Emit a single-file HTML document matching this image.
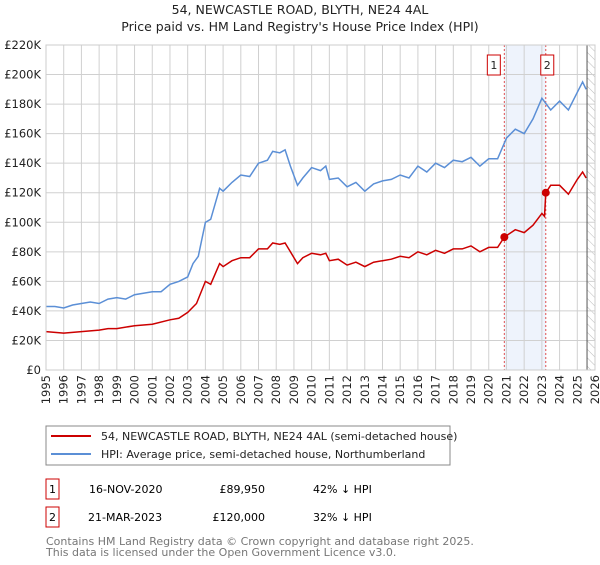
<!DOCTYPE html>
<html><head><meta charset="utf-8"><style>
body{margin:0;background:#fff;font-family:"Liberation Sans","DejaVu Sans",sans-serif;}
svg text{font-family:"DejaVu Sans","Liberation Sans",sans-serif;}
</style></head><body>
<svg id="c" width="600" height="560" viewBox="0 0 600 560" xmlns="http://www.w3.org/2000/svg">
<defs><pattern id="hatch" width="6" height="6" patternUnits="userSpaceOnUse" patternTransform="rotate(-45)"><line x1="0" y1="0" x2="0" y2="6" stroke="#bbb" stroke-width="1"/></pattern></defs>
<text x="300" y="14" text-anchor="middle" font-size="12.5" fill="#222">54, NEWCASTLE ROAD, BLYTH, NE24 4AL</text>
<text x="300" y="31" text-anchor="middle" font-size="12.5" fill="#222">Price paid vs. HM Land Registry's House Price Index (HPI)</text>
<g id="grid"></g><g id="marks"></g><g id="axes"></g>
<rect x="46" y="426" width="404" height="39" fill="#fff" stroke="#888"/>
<line x1="51" y1="436" x2="91" y2="436" stroke="#cc0000" stroke-width="2"/>
<text x="101" y="440" font-size="11" fill="#222">54, NEWCASTLE ROAD, BLYTH, NE24 4AL (semi-detached house)</text>
<line x1="51" y1="454" x2="91" y2="454" stroke="#5b8fd6" stroke-width="2"/>
<text x="101" y="458" font-size="11" fill="#222">HPI: Average price, semi-detached house, Northumberland</text>
<g>
<rect x="46" y="479" width="13" height="20" fill="#fff" stroke="#cc0000"/><text x="52.5" y="493" text-anchor="middle" font-size="11">1</text>
<text x="89" y="493" font-size="11">16-NOV-2020</text><text x="265" y="493" font-size="11" text-anchor="end">£89,950</text><text x="313" y="493" font-size="11">42% ↓ HPI</text></g>
<g>
<rect x="46" y="507" width="13" height="20" fill="#fff" stroke="#cc0000"/><text x="52.5" y="521" text-anchor="middle" font-size="11">2</text>
<text x="88" y="521" font-size="11">21-MAR-2023</text><text x="265" y="521" font-size="11" text-anchor="end">£120,000</text><text x="313" y="521" font-size="11">32% ↓ HPI</text></g>
<text x="46" y="545" font-size="11" fill="#777">Contains HM Land Registry data © Crown copyright and database right 2025.</text>
<text x="46" y="556" font-size="11" fill="#777">This data is licensed under the Open Government Licence v3.0.</text>
</svg>
<script>
const hpiT=[1995,1995.5,1996,1996.5,1997,1997.5,1998,1998.5,1999,1999.5,2000,2000.5,2001,2001.5,2002,2002.5,2003,2003.3,2003.6,2004,2004.3,2004.8,2005,2005.5,2006,2006.5,2007,2007.5,2007.8,2008.2,2008.5,2008.8,2009.2,2009.5,2010,2010.5,2010.8,2011,2011.5,2012,2012.5,2013,2013.5,2014,2014.5,2015,2015.5,2016,2016.5,2017,2017.5,2018,2018.5,2019,2019.5,2020,2020.5,2021,2021.5,2022,2022.5,2023,2023.5,2024,2024.5,2025,2025.3,2025.5];
const hpiV=[43,43,42,44,45,46,45,48,49,48,51,52,53,53,58,60,63,72,77,100,102,123,121,127,132,131,140,142,148,147,149,138,125,130,137,135,138,129,130,124,127,121,126,128,129,132,130,138,134,140,137,142,141,144,138,143,143,157,163,160,170,184,176,182,176,188,195,190];
const priceT=[1995,1996,1997,1998,1998.5,1999,2000,2001,2002,2002.5,2003,2003.5,2004,2004.3,2004.8,2005,2005.5,2006,2006.5,2007,2007.5,2007.8,2008.2,2008.5,2008.8,2009.2,2009.5,2010,2010.5,2010.8,2011,2011.5,2012,2012.5,2013,2013.5,2014,2014.5,2015,2015.5,2016,2016.5,2017,2017.5,2018,2018.5,2019,2019.5,2020,2020.5,2020.88,2021.5,2022,2022.5,2023,2023.15,2023.22,2023.5,2024,2024.5,2025,2025.3,2025.5];
const priceV=[26,25,26,27,28,28,30,31,34,35,39,45,60,58,72,70,74,76,76,82,82,86,85,86,80,72,76,79,78,79,74,75,71,73,70,73,74,75,77,76,80,78,81,79,82,82,84,80,83,83,89.95,95,93,98,106,104,120,125,125,119,129,134,130];
const saleT=[2020.88,2023.22];
const saleV=[89.95,120];
const yTicks=[0,20,40,60,80,100,120,140,160,180,200,220];
const years=[1995,1996,1997,1998,1999,2000,2001,2002,2003,2004,2005,2006,2007,2008,2009,2010,2011,2012,2013,2014,2015,2016,2017,2018,2019,2020,2021,2022,2023,2024,2025,2026];
const X0=46,X1=595,Y0=370,Y1=45;
const xs=t=>X0+(t-1995)/(2026-1995)*(X1-X0);
const ys=v=>Y0-v/220*(Y0-Y1);
const NS="http://www.w3.org/2000/svg";
function mk(tag,attrs,parent){const e=document.createElementNS(NS,tag);for(const k in attrs)e.setAttribute(k,attrs[k]);parent.appendChild(e);return e;}
const grid=document.getElementById('grid'),marks=document.getElementById('marks'),axes=document.getElementById('axes');
mk('rect',{x:X0,y:Y1,width:X1-X0,height:Y0-Y1,fill:'#fff'},grid);
const band=mk('rect',{x:xs(saleT[0]),y:Y1,width:xs(saleT[1])-xs(saleT[0]),height:Y0-Y1,fill:'#eef3fc'},grid);


const hat=mk('rect',{x:xs(2025.55),y:Y1,width:X1-xs(2025.55),height:Y0-Y1,fill:'url(#hatch)'},grid);


years.forEach(y=>{mk('line',{x1:xs(y),x2:xs(y),y1:Y1,y2:Y0,stroke:'#d0d0d0'},grid);
const t=mk('text',{x:0,y:0,transform:`translate(${xs(y)+4},${Y0+5}) rotate(-90)`,'text-anchor':'end','font-size':11.5,fill:'#222'},axes);t.textContent=y;

});
yTicks.forEach(v=>{mk('line',{x1:X0,x2:X1,y1:ys(v),y2:ys(v),stroke:'#d0d0d0'},grid);
const t=mk('text',{x:X0-5,y:ys(v)+4,'text-anchor':'end','font-size':11.5,fill:'#222'},axes);t.textContent=v===0?'£0':'£'+v+'K';

});
mk('line',{x1:xs(2025.55),x2:xs(2025.55),y1:Y1,y2:Y0,stroke:'#555'},grid);
saleT.forEach((t,i)=>{const l=mk('line',{x1:xs(t),x2:xs(t),y1:Y1,y2:Y0,stroke:'#e05050','stroke-dasharray':'2,2'},marks);


const g=mk('g',{},marks);


const bx=xs(t)-(i===0?17:5);
mk('rect',{x:bx,y:55,width:13,height:20,fill:'#fff',stroke:'#cc0000'},g);
const tx=mk('text',{x:bx+6.5,y:69,'text-anchor':'middle','font-size':11,fill:'#222'},g);tx.textContent=i+1;});
const line=(T,V,c,name)=>{const p=mk('path',{d:T.map((t,i)=>(i?'L':'M')+xs(t).toFixed(1)+','+ys(V[i]).toFixed(1)).join(''),fill:'none',stroke:c,'stroke-width':1.5},marks);

};
line(hpiT,hpiV,'#5b8fd6','hpi-line');
line(priceT,priceV,'#cc0000','price-paid-line');
saleT.forEach((t,i)=>{const c=mk('circle',{cx:xs(t),cy:ys(saleV[i]),r:4,fill:'#cc0000'},marks);

});
mk('rect',{x:X0,y:Y1,width:X1-X0,height:Y0-Y1,fill:'none',stroke:'#ccc'},axes);
</script>
</body></html>
